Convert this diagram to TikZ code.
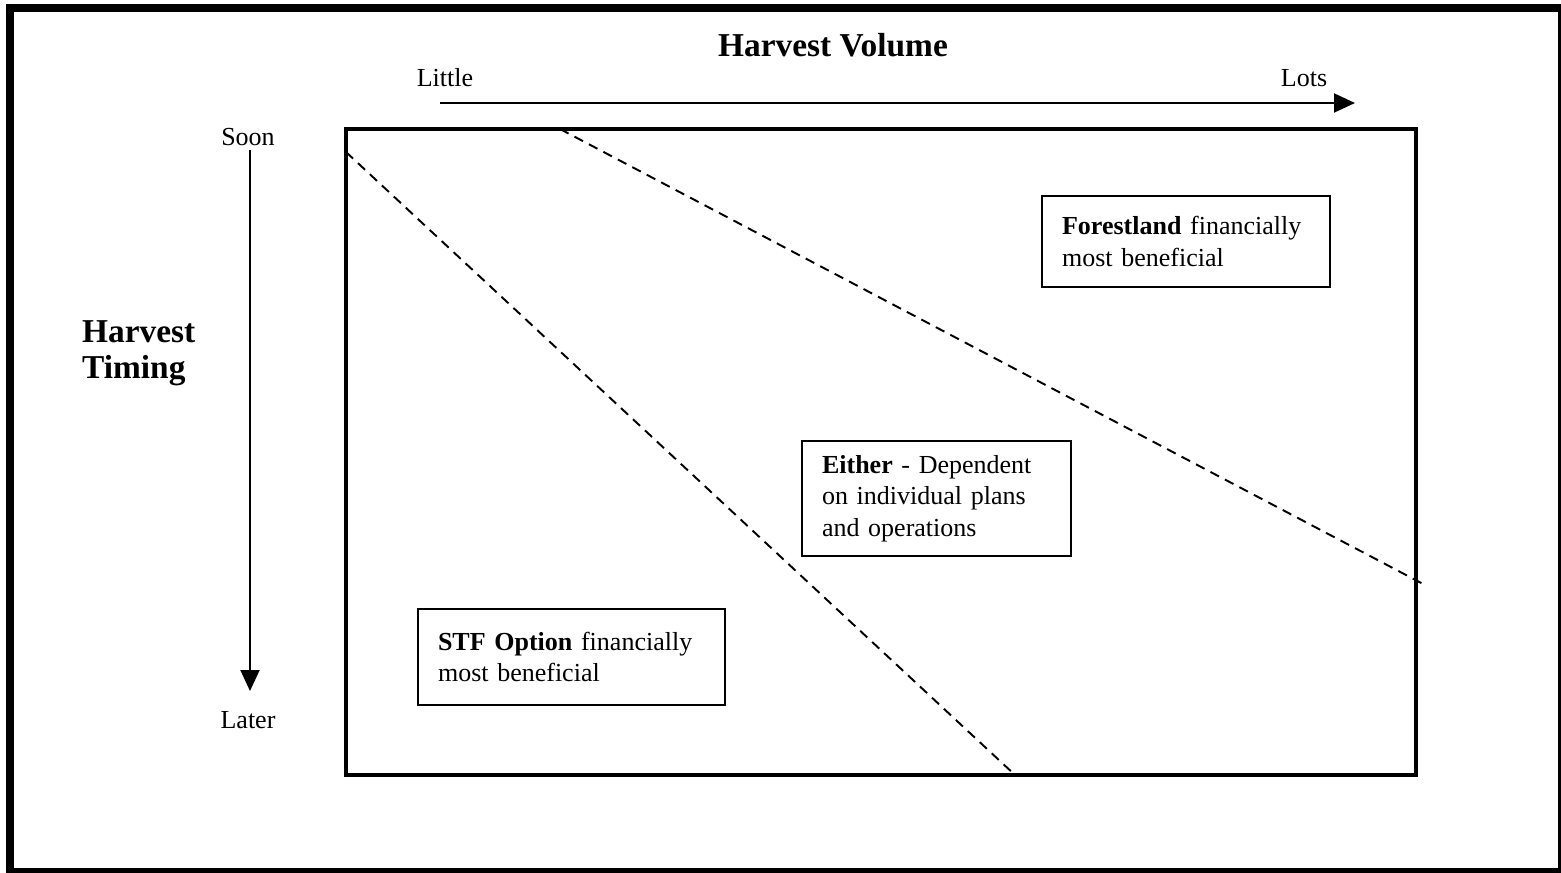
\documentclass[tikz,border=0pt]{standalone}
\usepackage{fontspec}
\setmainfont{Liberation Serif}
\usetikzlibrary{positioning, arrows.meta}
\newcommand{\bodyfont}{\fontsize{14.8}{17.8}\selectfont}
\newcommand{\headfont}{\fontsize{19}{20.5}\selectfont\bfseries}

\begin{document}
\begin{tikzpicture}[
      x=0.02cm, y=-0.02cm,
      every node/.style={font=\bodyfont},
      headlbl/.style={font=\headfont, align=left},
      region/.style={draw, line width=0.9pt, inner xsep=0.4cm, align=left},
      border/.style={line width=4.5pt},
      plotbox/.style={line width=2.3pt},
      split/.style={line width=1.1pt, dash pattern=on 5.5pt off 3.8pt},
      axis/.style={line width=1.1pt, -{Triangle[length=0.42cm,width=0.38cm]}},
    ]
    \useasboundingbox (0,0) rectangle (1561,872);

    % outer frame
    \draw[border] (10,8) rectangle (1562,872);

    % plot area
    \coordinate (pNW) at (346,129);
    \coordinate (pSE) at (1416,775);
    \draw[plotbox] (pNW) rectangle (pSE);

    % Titles
    \node[headlbl] (vol) at (833,45) {Harvest Volume};
    \node[headlbl, anchor=west] (timing) at (76,353) {Harvest\\Timing};

    % Volume axis
    \node (little) at (445,78) {Little};
    \node (lots) at (1304,78) {Lots};
    \coordinate (vStart) at (440,103);
    \coordinate (vEnd) at (1355,103);
    \draw[axis] (vStart) -- (vEnd);

    % Timing axis
    \node (soon) at (248,137) {Soon};
    \node (later) at (248,720) {Later};
    \coordinate (tStart) at (250,150);
    \coordinate (tEnd) at (250,691);
    \draw[axis] (tStart) -- (tEnd);

    % Dividing lines
    \coordinate (d1a) at (346,152);
    \coordinate (d1b) at (1015,775);
    \coordinate (d2a) at (560,129);
    \coordinate (d2b) at (1425,585);
    \draw[split] (d1a) -- (d1b);
    \draw[split] (d2a) -- (d2b);

    % Regions
    \node[region, text width=4.96cm, minimum height=1.82cm] (forest) at (1186,241.5)
      {\textbf{Forestland} financially most beneficial};
    \node[region, text width=4.58cm, minimum height=2.3cm] (either) at (936.5,498.5)
      {\textbf{Either} - Dependent on individual plans and operations};
    \node[region, text width=5.34cm, minimum height=1.92cm] (stf) at (571.5,657)
      {\textbf{STF Option} financially\\most beneficial};
  \end{tikzpicture}
\end{document}
